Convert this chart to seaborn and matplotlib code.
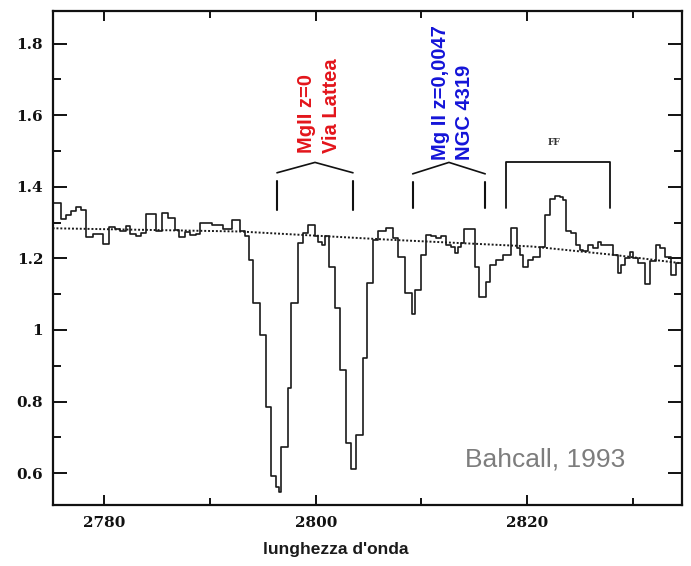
import matplotlib
matplotlib.use("Agg")
import matplotlib.pyplot as plt
import numpy as np
import seaborn as sns
from matplotlib.ticker import MultipleLocator

# spectrum: left edge of each bin (Angstrom) and the flux in that bin
edges = [2775.10, 2775.93, 2776.41, 2776.88, 2777.35, 2777.83, 2778.30, 2778.93,
         2779.88, 2780.44, 2780.98, 2781.45, 2782.02, 2782.40, 2782.97, 2783.50,
         2783.91, 2784.92, 2785.49, 2786.02, 2786.66, 2787.07, 2787.60, 2788.08,
         2788.64, 2789.08, 2790.22, 2791.23, 2792.11, 2792.81, 2793.28, 2793.69,
         2794.07, 2794.70, 2795.33, 2795.80, 2796.27, 2796.50, 2796.75, 2797.38,
         2797.69, 2798.32, 2798.80, 2799.26, 2799.90, 2800.20, 2800.55, 2800.85,
         2801.25, 2801.79, 2802.26, 2802.89, 2803.36, 2803.84, 2804.47, 2804.85,
         2805.41, 2805.89, 2806.68, 2807.30, 2807.78, 2808.45, 2809.07, 2809.36,
         2809.99, 2810.46, 2810.93, 2811.40, 2811.88, 2812.35, 2812.82, 2813.14,
         2813.45, 2813.77, 2814.00, 2815.03, 2815.44, 2816.14, 2816.45, 2817.08,
         2817.71, 2818.50, 2819.04, 2819.29, 2819.60, 2820.08, 2820.55, 2821.19,
         2821.66, 2822.13, 2822.61, 2823.08, 2823.39, 2823.65, 2824.18, 2824.66,
         2824.97, 2825.29, 2825.76, 2826.23, 2826.71, 2827.02, 2828.12, 2828.60,
         2828.91, 2829.23, 2829.70, 2830.02, 2830.49, 2831.12, 2831.59, 2832.16,
         2832.60, 2833.01, 2833.64, 2834.12, 2834.65]
flux = [1.354, 1.309, 1.321, 1.333, 1.343, 1.335, 1.260, 1.267,
        1.239, 1.288, 1.281, 1.276, 1.290, 1.268, 1.262, 1.271,
        1.324, 1.277, 1.326, 1.312, 1.279, 1.260, 1.274, 1.265,
        1.269, 1.298, 1.293, 1.283, 1.307, 1.277, 1.262, 1.196,
        1.075, 0.986, 0.786, 0.591, 0.560, 0.548, 0.674, 0.837,
        1.075, 1.242, 1.272, 1.292, 1.262, 1.245, 1.238, 1.262,
        1.177, 1.061, 0.889, 0.684, 0.612, 0.707, 0.921, 1.131,
        1.252, 1.275, 1.284, 1.256, 1.205, 1.103, 1.044, 1.112,
        1.208, 1.266, 1.262, 1.258, 1.262, 1.238, 1.233, 1.214,
        1.233, 1.242, 1.281, 1.177, 1.093, 1.135, 1.182, 1.196,
        1.210, 1.284, 1.228, 1.210, 1.177, 1.196, 1.205, 1.233,
        1.321, 1.366, 1.375, 1.370, 1.363, 1.275, 1.270, 1.238,
        1.224, 1.221, 1.236, 1.228, 1.245, 1.238, 1.210, 1.159,
        1.182, 1.202, 1.219, 1.200, 1.187, 1.128, 1.193, 1.238,
        1.228, 1.205, 1.154, 1.186]

# fitted continuum (dotted)
cont_wave = [2775.1, 2792.8, 2807.0, 2820.5, 2828.1, 2834.65]
cont_flux = [1.284, 1.275, 1.252, 1.233, 1.210, 1.186]

# line markers
mw_lines = [2796.33, 2803.52]
ngc_lines = [2809.17, 2816.03]
ff_range = [2817.97, 2827.81]

sns.set_style("ticks")
plt.rcParams["font.family"] = ["Liberation Sans", "DejaVu Sans"]

fig = plt.figure(figsize=(6.91, 5.66), dpi=100)
ax = fig.add_axes([0.0767, 0.1078, 0.9103, 0.8728])

step_y = flux + [flux[-1]]
sns.lineplot(x=edges, y=step_y, drawstyle="steps-post", color="#1a1a1a",
             lw=1.2, estimator=None, sort=False, ax=ax)
sns.lineplot(x=cont_wave, y=cont_flux, color="#1a1a1a", lw=1.4,
             linestyle=(0, (1, 1)), estimator=None, ax=ax)

# brackets with a roof (absorption doublets)
def roof_bracket(xs, leg_lo, leg_hi, roof_lo, apex):
    mid = 0.5 * (xs[0] + xs[1])
    for xv in xs:
        ax.plot([xv, xv], [leg_lo, leg_hi], color="#111111", lw=1.5)
    ax.plot([xs[0], mid, xs[1]], [roof_lo, apex, roof_lo], color="#111111", lw=1.2)

roof_bracket(mw_lines, 1.335, 1.416, 1.439, 1.468)
roof_bracket(ngc_lines, 1.341, 1.413, 1.436, 1.468)

ax.plot([ff_range[0], ff_range[0], ff_range[1], ff_range[1]],
        [1.340, 1.469, 1.469, 1.340], color="#111111", lw=1.3)
ax.text(0.5 * (ff_range[0] + ff_range[1]) - 0.4, 1.523, "FF", family="DejaVu Serif",
        fontsize=6.5, fontweight="bold", ha="center", va="center", color="#333333")

ax.text(2800.3, 1.495, "MgII z=0\nVia Lattea", rotation=90, color="#e3151b",
        fontsize=14.5, fontweight="bold", ha="center", va="bottom",
        multialignment="left", linespacing=1.35)
ax.text(2812.95, 1.475, "Mg II z=0,0047\nNGC 4319", rotation=90, color="#1414d8",
        fontsize=14.5, fontweight="bold", ha="center", va="bottom",
        multialignment="left", linespacing=1.35)

ax.text(2821.66, 0.637, "Bahcall, 1993", color="#7d7d7d", fontsize=19,
        ha="center", va="center")

ax.set_xlim(2775.14, 2834.65)
ax.set_ylim(0.511, 1.891)
ax.xaxis.set_major_locator(MultipleLocator(20))
ax.xaxis.set_minor_locator(MultipleLocator(10))
ax.yaxis.set_major_locator(MultipleLocator(0.2))
ax.yaxis.set_minor_locator(MultipleLocator(0.1))
ax.set_yticks([0.6, 0.8, 1.0, 1.2, 1.4, 1.6, 1.8])
ax.set_yticklabels(["0.6", "0.8", "1", "1.2", "1.4", "1.6", "1.8"])

ax.tick_params(which="both", direction="in", top=True, right=True, width=1.4,
               labelsize=11, colors="#111111")
ax.tick_params(axis="y", which="major", length=10, pad=7)
ax.tick_params(axis="y", which="minor", length=6)
ax.tick_params(axis="x", which="major", length=7, pad=8)
ax.tick_params(axis="x", which="minor", length=5)
for lab in ax.get_xticklabels() + ax.get_yticklabels():
    lab.set_family("DejaVu Serif")
    lab.set_fontweight("bold")

for sp in ax.spines.values():
    sp.set_linewidth(1.6)
    sp.set_color("#111111")

ax.set_xlabel("lunghezza d'onda", fontsize=12.5, fontweight="bold", color="#1a1a1a",
              labelpad=7)
ax.xaxis.set_label_coords(0.45, -0.075)
ax.set_ylabel("")

fig.savefig("out.png", dpi=100)
